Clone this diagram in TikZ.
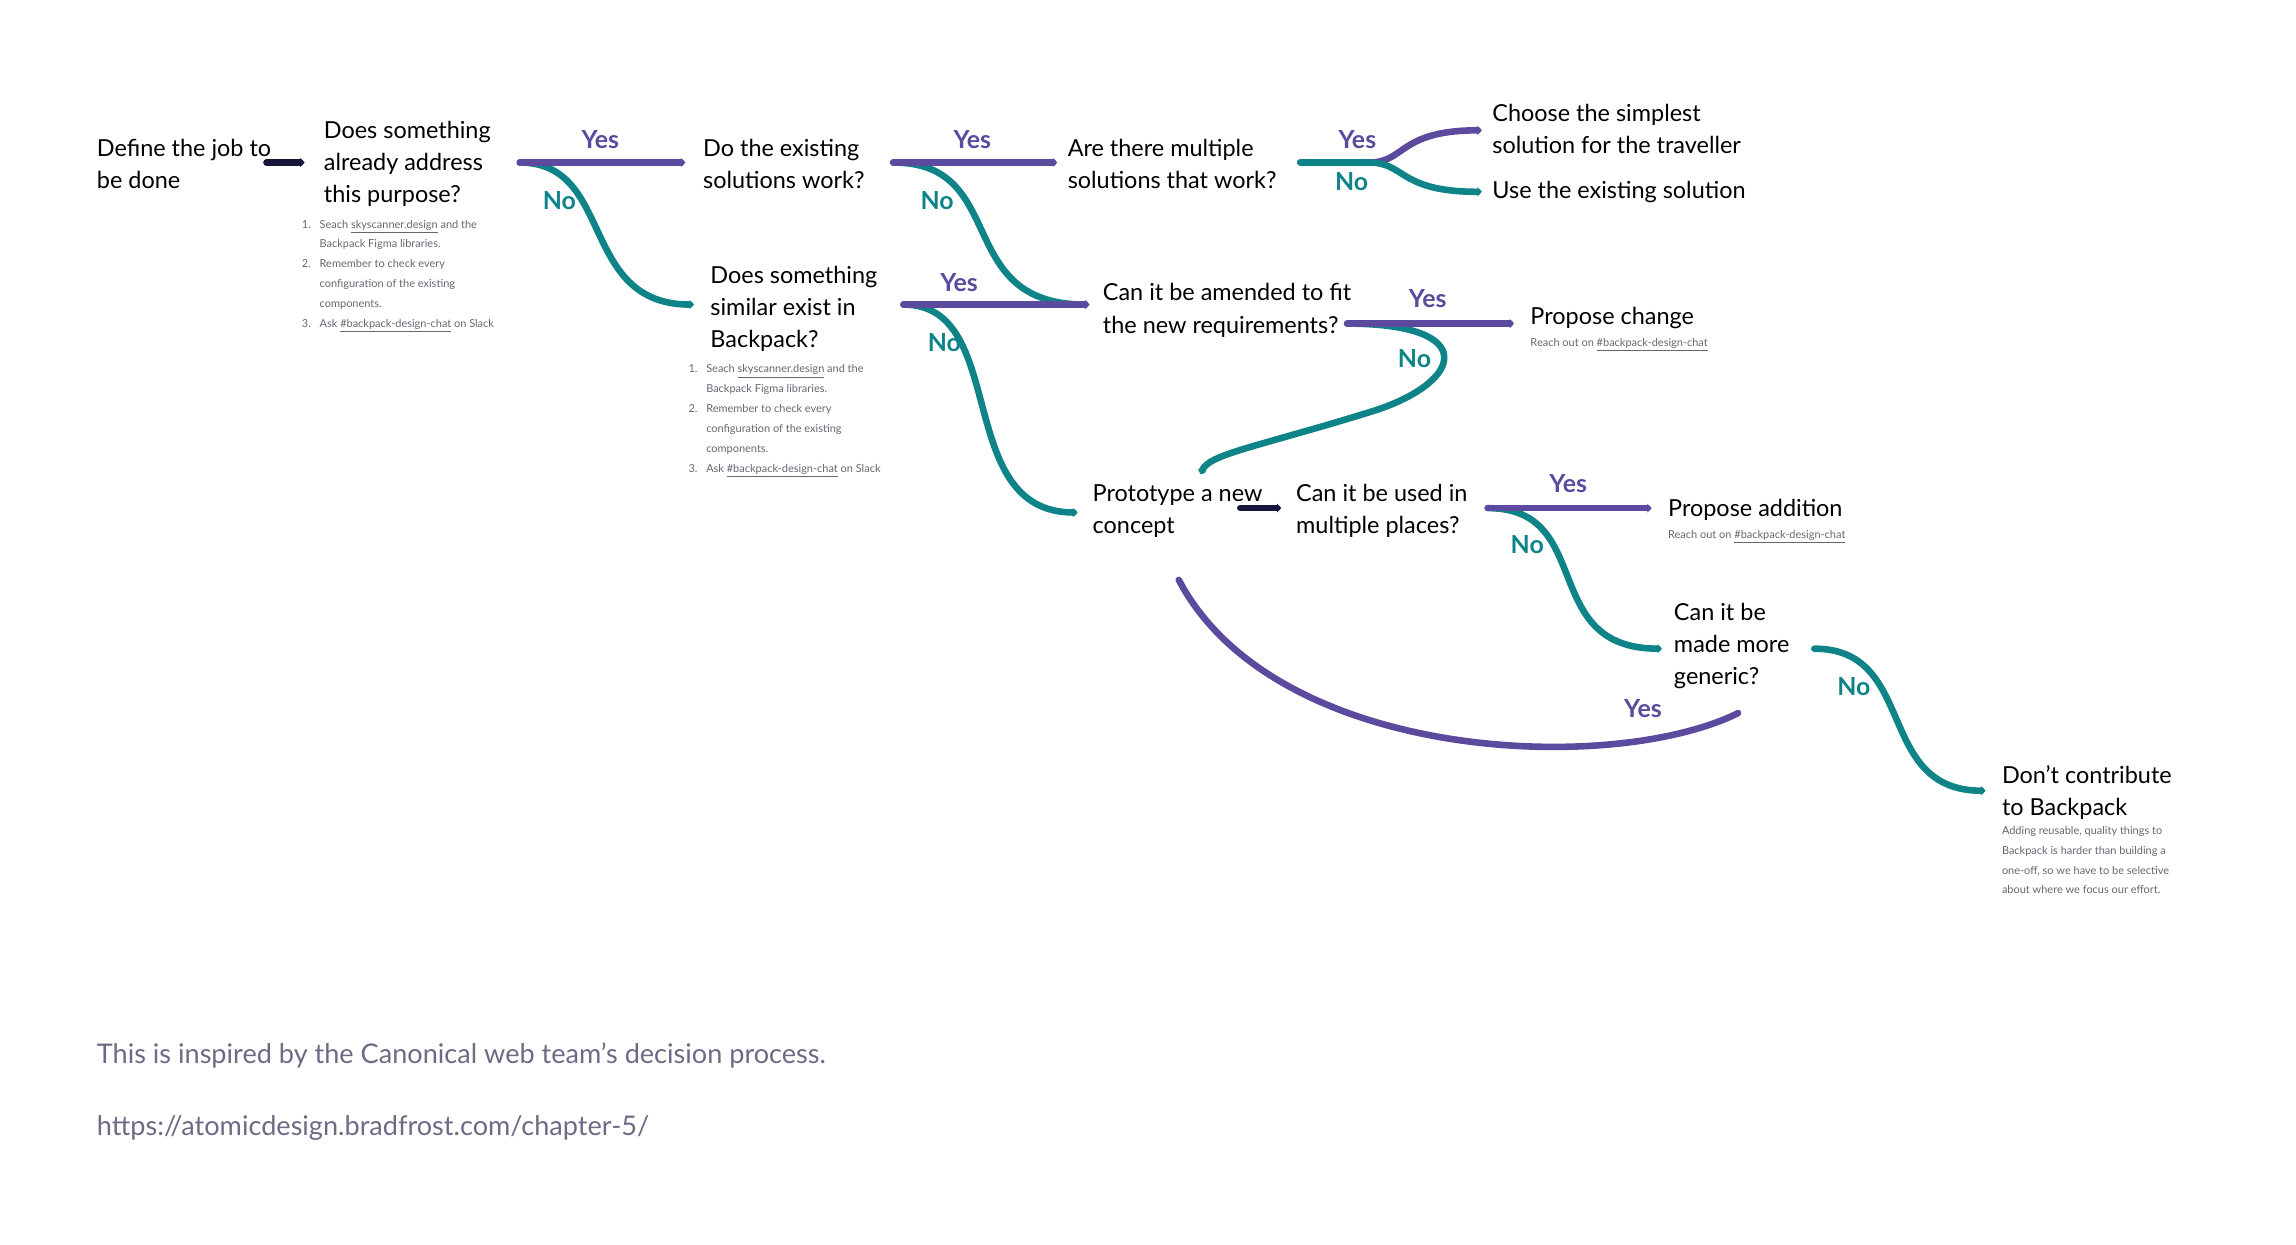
\documentclass[tikz,border=0pt]{standalone}
\usepackage{fontspec}
\setmainfont{Lato}
\usetikzlibrary{arrows.meta,calc}
\definecolor{teal}{HTML}{0E8489}
\definecolor{purp}{HTML}{5B4A9E}
\definecolor{navy}{HTML}{16163A}
\definecolor{gr}{HTML}{666672}
\definecolor{foot}{HTML}{6E6A85}
\tikzset{
 q/.style={anchor=west,inner sep=0pt,align=left,font=\fontsize{16}{22}\selectfont,text=black},
 sm/.style={anchor=north west,inner sep=0pt,align=left,font=\fontsize{7.5}{13.6}\selectfont,text=gr},
 con/.style={line width=4.5pt,line cap=round,-{Triangle[length=3pt,width=6pt]}},
 yes/.style={con,draw=purp},
 no/.style={con,draw=teal},
 dk/.style={con,draw=navy},
 ly/.style={font=\fontsize{17}{17}\selectfont\bfseries,text=purp,inner sep=0pt},
 ln/.style={font=\fontsize{17}{17}\selectfont\bfseries,text=teal,inner sep=0pt},
}
\newcommand{\ul}[1]{\underline{#1}}
\newcommand{\lst}{\begin{tabular}{@{}r@{\hspace{6pt}}l@{}}1.&Seach \ul{skyscanner.design} and the\\&Backpack Figma libraries.\\2.&Remember to check every\\&configuration of the existing\\&components.\\3.&Ask \ul{\#backpack-design-chat} on Slack\end{tabular}}
\begin{document}
\begin{tikzpicture}[x=1pt,y=-1pt]
\useasboundingbox (0,0) rectangle (1568,850);
\node[q] (n1) at (66,112) {Define the job to\\be done};
\node[q] (n2) at (221,112) {Does something\\already address\\this purpose?};
\node[sm] (l2) at (206,146) {\lst};
\node[q] (n3) at (480,112) {Do the existing\\solutions work?};
\node[q] (n4) at (729,112) {Are there multiple\\solutions that work?};
\node[q] (n5) at (1019,88) {Choose the simplest\\solution for the traveller};
\node[q] (n6) at (1019,131) {Use the existing solution};
\node[q] (n7) at (485,211) {Does something\\similar exist in\\Backpack?};
\node[sm] (l7) at (470,245) {\lst};
\node[q] (n8) at (753,212) {Can it be amended to fit\\the new requirements?};
\node[q] (n9) at (1045,217) {Propose change};
\node[sm] (s9) at (1045,231) {Reach out on \ul{\#backpack-design-chat}};
\node[q] (n10) at (746,349) {Prototype a new\\concept};
\node[q] (n11) at (885,349) {Can it be used in\\multiple places?};
\node[q] (n12) at (1139,348) {Propose addition};
\node[sm] (s12) at (1139,362) {Reach out on \ul{\#backpack-design-chat}};
\node[q] (n13) at (1143,441) {Can it be\\made more\\generic?};
\node[q] (n14) at (1367,541) {Don’t contribute\\to Backpack};
\node[sm] (s14) at (1367,564) {Adding reusable, quality things to\\Backpack is harder than building a\\one-off, so we have to be selective\\about where we focus our effort.};
% connectors
\coordinate (a1) at (182,111); \coordinate (a2) at (208,111);
\draw[dk] (a1) -- (a2);
\coordinate (b) at (355,111);
\draw[no] (b) .. controls (420,111) and (395,208) .. (474,208);
\draw[yes] (b) -- (468,111);
\node[ly] at (410,95) {Yes}; \node[ln] at (382,137) {No};
\coordinate (c) at (610,111);
\draw[no] (c) .. controls (690,111) and (650,208) .. (744,208);
\draw[yes] (c) -- (722,111);
\node[ly] at (664,95) {Yes}; \node[ln] at (640,137) {No};
\coordinate (d) at (888,111);
\draw[yes] (d) -- (935,111) .. controls (960,111) and (955,89) .. (1012,89);
\draw[no] (d) -- (935,111) .. controls (960,111) and (955,131) .. (1012,131);
\node[ly] at (927,95) {Yes}; \node[ln] at (923,124) {No};
\coordinate (e) at (617,208);
\draw[no] (e) .. controls (690,208) and (650,350) .. (736,350);
\draw[yes] (e) -- (744,208);
\node[ly] at (655,193) {Yes}; \node[ln] at (645,234) {No};
\coordinate (f) at (920,221);
\draw[no] (f) .. controls (1010,221) and (1000,260) .. (940,280) .. controls (860,305) and (825,310) .. (820,324);
\draw[yes] (f) -- (1034,221);
\node[ly] at (975,204) {Yes}; \node[ln] at (966,245) {No};
\coordinate (g1) at (847,347); \coordinate (g2) at (875,347);
\draw[dk] (g1) -- (g2);
\coordinate (h) at (1016,347);
\draw[no] (h) .. controls (1090,347) and (1050,443) .. (1135,443);
\draw[yes] (h) -- (1128,347);
\node[ly] at (1071,330) {Yes}; \node[ln] at (1043,372) {No};
\coordinate (k) at (1239,443);
\draw[no] (k) .. controls (1310,443) and (1280,540) .. (1356,540);
\coordinate (m) at (1187,487);
\draw[purp,line width=4.5pt,line cap=round] (m) .. controls (1100,530) and (870,520) .. (805,396);
\node[ly] at (1122,484) {Yes}; \node[ln] at (1266,469) {No};
% footer
\node[anchor=west,inner sep=0pt,font=\fontsize{18.5}{20}\selectfont,text=foot] (f1) at (66,721) {This is inspired by the Canonical web team’s decision process.};
\node[anchor=west,inner sep=0pt,font=\fontsize{18.5}{20}\selectfont,text=foot] (f2) at (66,770) {https://atomicdesign.bradfrost.com/chapter-5/};
\end{tikzpicture}
\end{document}
